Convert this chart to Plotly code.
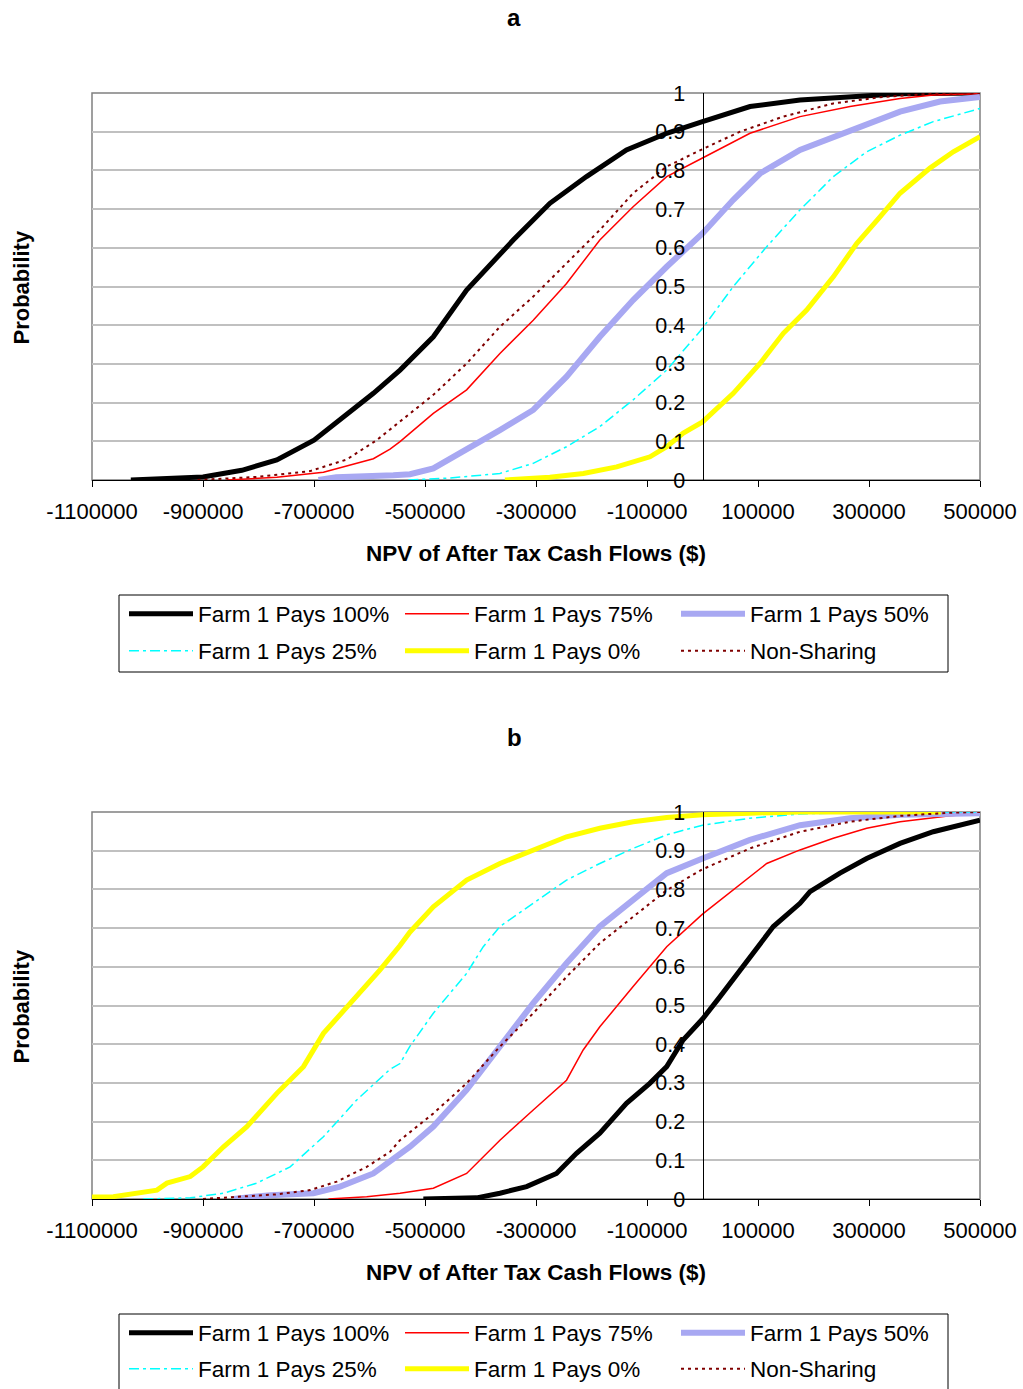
import plotly.graph_objects as go

# ---------------- data ----------------
series_names = ["Farm 1 Pays 100%", "Farm 1 Pays 75%", "Farm 1 Pays 50%",
                "Farm 1 Pays 25%", "Farm 1 Pays 0%", "Non-Sharing"]

x_tickvals = [-1100000, -900000, -700000, -500000, -300000, -100000, 100000, 300000, 500000]
x_ticktext = ["-1100000", "-900000", "-700000", "-500000", "-300000", "-100000", "100000", "300000", "500000"]
y_tickvals = [0, 0.1, 0.2, 0.3, 0.4, 0.5, 0.6, 0.7, 0.8, 0.9, 1]

# Panel a
a_100_x = [-1030000, -960000, -900000, -830000, -767000, -700000, -647000, -593000, -545000, -527000,
           -485000, -425000, -341000, -275000, -209000, -137000, -64500, 0, 85600, 175700, 265800, 356000, 500000]
a_100_p = [0, 0.004, 0.008, 0.025, 0.052, 0.103, 0.164, 0.224, 0.284, 0.31,
           0.37, 0.491, 0.62, 0.715, 0.784, 0.853, 0.896, 0.926, 0.965, 0.982, 0.99, 0.998, 1.0]
a_75_x = [-857000, -767000, -683000, -593000, -563000, -545000, -485000, -425000, -365000, -305000,
          -245000, -185000, -125000, -64500, 0, 85600, 175700, 265800, 356000, 416000, 500000]
a_75_p = [0, 0.007, 0.02, 0.055, 0.08, 0.099, 0.172, 0.233, 0.327, 0.413,
          0.508, 0.62, 0.706, 0.784, 0.832, 0.896, 0.939, 0.965, 0.986, 0.995, 0.998]
a_50_x = [-692000, -660000, -557000, -527000, -485000, -425000, -365000, -305000, -245000, -185000,
          -125000, -64500, 0, 55500, 103600, 175700, 265800, 356000, 428000, 500000]
a_50_p = [0, 0.007, 0.012, 0.015, 0.03, 0.078, 0.129, 0.181, 0.267, 0.37,
          0.465, 0.551, 0.637, 0.724, 0.792, 0.853, 0.904, 0.952, 0.978, 0.99]
a_25_x = [-530000, -455000, -365000, -305000, -245000, -185000, -125000, -64500, 0, 55500,
          115700, 175700, 235700, 295800, 356000, 415800, 500000]
a_25_p = [0, 0.005, 0.017, 0.043, 0.086, 0.138, 0.207, 0.284, 0.392, 0.5,
          0.603, 0.698, 0.784, 0.848, 0.891, 0.926, 0.96]
a_0_x = [-356000, -275000, -214700, -154600, -94600, -64500, -34600, 0, 55500, 103600,
         145600, 187700, 235700, 277800, 319800, 355900, 409900, 451900, 500000]
a_0_p = [0, 0.007, 0.017, 0.034, 0.06, 0.086, 0.121, 0.15, 0.224, 0.301,
         0.379, 0.439, 0.525, 0.611, 0.68, 0.741, 0.806, 0.848, 0.887]
a_ns_x = [-910000, -803000, -707000, -641000, -587000, -545000, -485000, -425000, -365000, -305000,
          -245000, -185000, -125000, -64500, 0, 67600, 145600, 235700, 325800, 416000, 500000]
a_ns_p = [0, 0.008, 0.023, 0.053, 0.103, 0.151, 0.22, 0.301, 0.396, 0.474,
          0.56, 0.646, 0.741, 0.81, 0.855, 0.9, 0.939, 0.973, 0.99, 0.998, 1.0]

# Panel b
b_100_x = [-503000, -407000, -365000, -317000, -263000, -227000, -185000, -137000, -95000, -64500,
           -35000, 0, 31600, 85600, 127600, 175700, 193700, 247700, 295800, 355900, 415800, 500000]
b_100_p = [0, 0.003, 0.015, 0.032, 0.066, 0.118, 0.17, 0.247, 0.299, 0.342,
           0.411, 0.465, 0.523, 0.626, 0.704, 0.764, 0.794, 0.842, 0.88, 0.919, 0.949, 0.979]
b_75_x = [-674000, -605000, -545000, -485000, -425000, -395000, -365000, -305000, -245000, -215000,
          -185000, -125000, -64500, 0, 55500, 115700, 175700, 235700, 295800, 356000, 446000, 500000]
b_75_p = [0, 0.006, 0.015, 0.028, 0.066, 0.109, 0.152, 0.23, 0.307, 0.385,
          0.445, 0.549, 0.652, 0.736, 0.798, 0.867, 0.902, 0.932, 0.958, 0.975, 0.99, 0.997]
b_50_x = [-845000, -779000, -701000, -653000, -593000, -551000, -527000, -485000, -425000, -365000,
          -305000, -245000, -185000, -125000, -64500, 0, 85600, 175700, 265800, 356000, 500000]
b_50_p = [0, 0.01, 0.015, 0.032, 0.066, 0.109, 0.135, 0.187, 0.282, 0.394,
          0.506, 0.609, 0.704, 0.773, 0.842, 0.88, 0.928, 0.966, 0.984, 0.993, 0.997]
b_25_x = [-1007500, -923000, -863000, -803000, -743000, -683000, -623000, -563000, -545000, -527000,
          -485000, -425000, -395000, -365000, -305000, -245000, -185000, -125000, -64500, 0,
          85600, 175700, 300000, 500000]
b_25_p = [0, 0.003, 0.015, 0.041, 0.083, 0.161, 0.256, 0.335, 0.35, 0.395,
          0.48, 0.583, 0.652, 0.704, 0.764, 0.824, 0.867, 0.906, 0.941, 0.966,
          0.984, 0.995, 1.0, 1.0]
b_0_x = [-1100000, -1061600, -983000, -965000, -923000, -900000, -863000, -821000, -767000, -719000,
         -683000, -623000, -581000, -545000, -527000, -485000, -425000, -365000, -305000, -245000,
         -185000, -125000, -64500, 0, 85600, 175700, 430000]
b_0_p = [0.005, 0.006, 0.023, 0.041, 0.058, 0.083, 0.135, 0.187, 0.273, 0.342,
         0.428, 0.523, 0.592, 0.655, 0.69, 0.755, 0.824, 0.867, 0.902, 0.936,
         0.958, 0.975, 0.986, 0.993, 0.997, 1.0, 1.0]
b_ns_x = [-900000, -821000, -767000, -707000, -659000, -605000, -563000, -545000, -485000, -425000,
          -365000, -305000, -245000, -185000, -125000, -64500, 0, 85600, 175700, 265800,
          356000, 446000, 500000]
b_ns_p = [0, 0.006, 0.012, 0.023, 0.045, 0.083, 0.122, 0.152, 0.221, 0.299,
          0.394, 0.48, 0.574, 0.661, 0.729, 0.798, 0.852, 0.906, 0.949, 0.975,
          0.99, 0.998, 1.0]

panel_a = [(a_100_x, a_100_p), (a_75_x, a_75_p), (a_50_x, a_50_p),
           (a_25_x, a_25_p), (a_0_x, a_0_p), (a_ns_x, a_ns_p)]
panel_b = [(b_100_x, b_100_p), (b_75_x, b_75_p), (b_50_x, b_50_p),
           (b_25_x, b_25_p), (b_0_x, b_0_p), (b_ns_x, b_ns_p)]

# ---------------- styles ----------------
line_styles = [
    dict(color="#000000", width=5),
    dict(color="#ff0000", width=1.5),
    dict(color="#a8a8f2", width=6),
    dict(color="#00ffff", width=1.5, dash="10px,4px,3px,4px"),
    dict(color="#ffff00", width=5),
    dict(color="#800000", width=2, dash="3px,4px"),
]

W, H = 1023, 1389
L, R = 92, 43
PW = W - L - R


def px_x(px):
    return (px - L) / PW


def px_y(py):
    return 1 - py / H


FONT = "Liberation Sans, Arial, sans-serif"

fig = go.Figure()

for panel_idx, (panel, xa, ya) in enumerate([(panel_a, "x", "y"), (panel_b, "x2", "y2")]):
    for i, (xs, ps) in enumerate(panel):
        row = i // 3
        leg_id = 1 + panel_idx * 2 + row
        leg_name = "legend" if leg_id == 1 else f"legend{leg_id}"
        fig.add_trace(go.Scatter(
            x=xs, y=ps, mode="lines", name=series_names[i],
            line=line_styles[i], xaxis=xa, yaxis=ya,
            legend=leg_name, showlegend=True, hoverinfo="skip",
        ))

# axes geometry
top_plot = (93, 480)
bot_plot = (812, 1199)
x0_frac = px_x(L + 1100000 * PW / 1600000)

common_x = dict(range=[-1100000, 500000], tickvals=x_tickvals, ticktext=x_ticktext,
                showline=True, linecolor="#000000", linewidth=1, ticks="outside",
                ticklen=6, tickcolor="#000000", showgrid=False, zeroline=False,
                tickfont=dict(family=FONT, size=22, color="#000000"),
                ticklabelstandoff=6, fixedrange=True)
common_y = dict(range=[0, 1], tickvals=y_tickvals, showline=True, linecolor="#000000",
                linewidth=1, ticks="", showgrid=True, gridcolor="#c0c0c0", gridwidth=1.5,
                zeroline=False, anchor="free", position=x0_frac, side="left",
                tickfont=dict(family=FONT, size=21.5, color="#000000"),
                ticklabelstandoff=13, fixedrange=True)

fig.update_layout(
    width=W, height=H,
    margin=dict(l=L, r=R, t=0, b=0, autoexpand=False),
    paper_bgcolor="white", plot_bgcolor="white",
    xaxis=dict(domain=[0, 1], anchor="y", **common_x),
    yaxis=dict(domain=[px_y(top_plot[1]), px_y(top_plot[0])], **common_y),
    xaxis2=dict(domain=[0, 1], anchor="y2", **common_x),
    yaxis2=dict(domain=[px_y(bot_plot[1]), px_y(bot_plot[0])], **common_y),
    font=dict(family=FONT, color="#000000"),
)

# legends: one per row, framed by a box
leg_common = dict(orientation="h", xanchor="left", yanchor="middle",
                  font=dict(family=FONT, size=22.5, color="#000000"),
                  bgcolor="rgba(0,0,0,0)", borderwidth=0, itemwidth=64,
                  entrywidth=197, entrywidthmode="pixels", traceorder="normal",
                  itemclick=False, itemdoubleclick=False)
leg_x = px_x(124)
fig.update_layout(
    legend=dict(x=leg_x, y=px_y(614), **leg_common),
    legend2=dict(x=leg_x, y=px_y(651), **leg_common),
    legend3=dict(x=leg_x, y=px_y(1333), **leg_common),
    legend4=dict(x=leg_x, y=px_y(1369), **leg_common),
)

shapes = []
# plot-area borders (grey) for both panels
for xa, ya in [("x", "y"), ("x2", "y2")]:
    shapes.append(dict(type="rect", xref=f"{xa} domain", yref=f"{ya} domain",
                       x0=0, x1=1, y0=0, y1=1, line=dict(color="#808080", width=1.5),
                       layer="below"))
# legend frames
shapes.append(dict(type="rect", xref="paper", yref="paper", x0=px_x(119), x1=px_x(948),
                   y0=px_y(672), y1=px_y(595), line=dict(color="#000000", width=1)))
shapes.append(dict(type="rect", xref="paper", yref="paper", x0=px_x(119), x1=px_x(948),
                   y0=px_y(1391), y1=px_y(1314), line=dict(color="#000000", width=1)))
fig.update_layout(shapes=shapes)

annotations = []
for title, ty, xt_y, plot_rng in [("a", 18, 553, top_plot), ("b", 737, 1272, bot_plot)]:
    annotations.append(dict(text=f"<b>{title}</b>", x=px_x(514), y=px_y(ty), xref="paper", yref="paper",
                            showarrow=False, xanchor="center", yanchor="middle",
                            font=dict(family=FONT, size=24, color="#000000")))
    annotations.append(dict(text="<b>NPV of After Tax Cash Flows ($)</b>", x=px_x(536), y=px_y(xt_y),
                            xref="paper", yref="paper", showarrow=False, xanchor="center",
                            yanchor="middle", font=dict(family=FONT, size=22.5, color="#000000")))
    annotations.append(dict(text="<b>Probability</b>", x=px_x(21), y=px_y((plot_rng[0] + plot_rng[1]) / 2 + 1),
                            xref="paper", yref="paper", showarrow=False, xanchor="center",
                            yanchor="middle", textangle=-90,
                            font=dict(family=FONT, size=22, color="#000000")))
fig.update_layout(annotations=annotations)

fig.write_html("out.html")
